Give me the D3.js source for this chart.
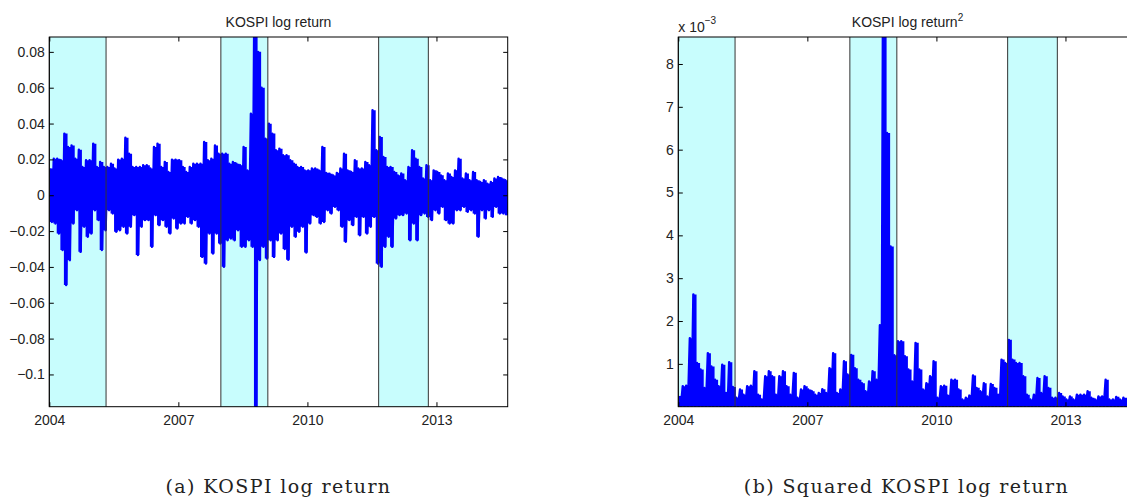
<!DOCTYPE html>
<html>
<head>
<meta charset="utf-8">
<script src="https://cdn.jsdelivr.net/npm/d3@7"></script>
<style>
  body { margin: 0; background: #fff; }
  svg text { font-family: "Liberation Sans", Arial, Helvetica, sans-serif; fill: #222; }
  .caption { font-family: "DejaVu Serif", "Liberation Serif", serif; }
</style>
</head>
<body>
<div id="chart"></div>
<script>
// monthly extremes of the daily KOSPI log return, Jan 2004 .. Aug 2014
var retHigh = [
  0.0149, 0.0204, 0.0204, 0.0195, 0.0344, 0.0269, 0.0278, 0.0204, 0.0254, 0.0158, 0.0195, 0.0195,
  0.0288, 0.0158, 0.0186, 0.0158, 0.0158, 0.0176, 0.0149, 0.0199, 0.0204, 0.0321, 0.0232, 0.0158,
  0.0158, 0.0158, 0.0167, 0.0167, 0.0149, 0.0269, 0.0288, 0.0158, 0.0186, 0.0130, 0.0199, 0.0199,
  0.0195, 0.0158, 0.0130, 0.0158, 0.0176, 0.0176, 0.0176, 0.0297, 0.0195, 0.0204, 0.0278, 0.0232,
  0.0232, 0.0232, 0.0176, 0.0186, 0.0176, 0.0167, 0.0269, 0.0139, 0.0455, 0.1130, 0.0800, 0.0600,
  0.0316, 0.0399, 0.0344, 0.0251, 0.0260, 0.0223, 0.0223, 0.0195, 0.0176, 0.0158, 0.0158, 0.0139,
  0.0139, 0.0149, 0.0149, 0.0139, 0.0269, 0.0125, 0.0120, 0.0110, 0.0125, 0.0149, 0.0232, 0.0139,
  0.0130, 0.0195, 0.0149, 0.0149, 0.0186, 0.0167, 0.0474, 0.0251, 0.0325, 0.0214, 0.0158, 0.0158,
  0.0130, 0.0111, 0.0121, 0.0084, 0.0158, 0.0251, 0.0204, 0.0158, 0.0093, 0.0167, 0.0084, 0.0139,
  0.0130, 0.0111, 0.0084, 0.0121, 0.0102, 0.0139, 0.0204, 0.0093, 0.0121, 0.0084, 0.0130, 0.0084,
  0.0074, 0.0084, 0.0065, 0.0074, 0.0093, 0.0102, 0.0093, 0.0084
];
var retLow = [
  -0.0149, -0.0158, -0.0214, -0.0306, -0.0501, -0.0362, -0.0158, -0.0084, -0.0316, -0.0176, -0.0232, -0.0214,
  -0.0084, -0.0139, -0.0306, -0.0195, -0.0084, -0.0102, -0.0204, -0.0195, -0.0176, -0.0214, -0.0176, -0.0111,
  -0.0334, -0.0176, -0.0139, -0.0139, -0.0288, -0.0111, -0.0167, -0.0139, -0.0176, -0.0214, -0.0130, -0.0186,
  -0.0158, -0.0158, -0.0121, -0.0158, -0.0139, -0.0176, -0.0344, -0.0381, -0.0214, -0.0325, -0.0214, -0.0269,
  -0.0399, -0.0251, -0.0241, -0.0251, -0.0195, -0.0288, -0.0288, -0.0251, -0.0288, -0.1250, -0.0362, -0.0288,
  -0.0353, -0.0251, -0.0344, -0.0251, -0.0214, -0.0300, -0.0360, -0.0176, -0.0232, -0.0204, -0.0176, -0.0320,
  -0.0158, -0.0111, -0.0121, -0.0158, -0.0149, -0.0084, -0.0102, -0.0065, -0.0084, -0.0176, -0.0260, -0.0139,
  -0.0167, -0.0121, -0.0223, -0.0121, -0.0214, -0.0176, -0.0121, -0.0381, -0.0399, -0.0288, -0.0232, -0.0288,
  -0.0130, -0.0111, -0.0111, -0.0102, -0.0251, -0.0158, -0.0251, -0.0111, -0.0102, -0.0121, -0.0139, -0.0084,
  -0.0102, -0.0065, -0.0139, -0.0158, -0.0158, -0.0084, -0.0084, -0.0065, -0.0093, -0.0084, -0.0102, -0.0232,
  -0.0084, -0.0130, -0.0084, -0.0121, -0.0065, -0.0102, -0.0102, -0.0111
];
// monthly peak of the squared log return, in units of 1e-3
var sqPeak = [
  0.25, 0.48, 0.49, 1.60, 2.62, 1.02, 0.87, 0.44, 1.25, 0.94, 0.63, 0.48,
  0.98, 0.32, 1.04, 0.46, 0.21, 0.40, 0.28, 0.48, 0.49, 0.83, 0.28, 0.17,
  0.71, 0.83, 0.71, 0.28, 0.71, 0.83, 0.48, 0.28, 0.79, 0.21, 0.40, 0.48,
  0.40, 0.36, 0.28, 0.32, 0.41, 0.32, 0.90, 1.25, 0.32, 0.40, 1.06, 0.75,
  1.21, 0.90, 0.63, 0.55, 0.36, 0.59, 0.83, 0.63, 1.90, 12.8, 6.39, 3.74,
  1.20, 1.53, 1.53, 1.18, 0.87, 0.59, 1.49, 0.87, 0.40, 0.55, 0.71, 1.06,
  0.21, 0.48, 0.49, 0.26, 0.63, 0.63, 0.40, 0.17, 0.21, 0.26, 0.73, 0.44,
  0.36, 0.55, 0.24, 0.53, 0.44, 0.28, 1.10, 1.02, 1.56, 1.10, 1.02, 1.02,
  0.71, 0.28, 0.17, 0.28, 0.67, 0.32, 0.71, 0.44, 0.21, 0.21, 0.32, 0.24,
  0.17, 0.24, 0.17, 0.28, 0.28, 0.28, 0.36, 0.21, 0.17, 0.24, 0.24, 0.63,
  0.17, 0.17, 0.23, 0.17, 0.21, 0.18, 0.20, 0.20
];

// shaded (cyan) periods
var shadeStart = ["2004-01-01", "2007-12-28", "2011-08-29"];
var shadeEnd   = ["2005-04-27", "2009-01-30", "2012-10-24"];

var tickYears = [2004, 2007, 2010, 2013];
var retTicks = [-0.1, -0.08, -0.06, -0.04, -0.02, 0, 0.02, 0.04, 0.06, 0.08];
var retTickLabels = ["\u22120.1", "\u22120.08", "\u22120.06", "\u22120.04", "\u22120.02", "0", "0.02", "0.04", "0.06", "0.08"];
var sqTicks = [1, 2, 3, 4, 5, 6, 7, 8];

// layout
var width = 458.4, height = 369.7, marginTop = 37;
var leftA = 49.3, leftB = 678.3;

var svg = d3.select("#chart").append("svg")
    .attr("width", 1127)
    .attr("height", 501);

var months = d3.timeMonth.range(new Date(2004, 0, 1), new Date(2014, 8, 1));
var parse = d3.timeParse("%Y-%m-%d");

var x = d3.scaleTime()
    .domain([new Date(2004, 0, 1), new Date(2014, 7, 29)])
    .range([0, width]);

var yRet = d3.scaleLinear().domain([-0.118, 0.0883]).range([height, 0]);
var ySq = d3.scaleLinear().domain([0, 8.63]).range([height, 0]);

// zig-zag through each month: peak early in the month, trough later
var retPoints = [], sqPoints = [], retMonths = [], sqMonths = [];
months.forEach(function(m, i) {
  retPoints.push({t: d3.timeDay.offset(m, 7), v: retHigh[i]});
  retPoints.push({t: d3.timeDay.offset(m, 22), v: retLow[i]});
  sqPoints.push({t: d3.timeDay.offset(m, 7), v: sqPeak[i]});
  sqPoints.push({t: d3.timeDay.offset(m, 22), v: 0});
  retMonths.push({t: d3.timeDay.offset(m, 3), hi: retHigh[i], lo: retLow[i]});
  sqMonths.push({t: d3.timeDay.offset(m, 3), hi: sqPeak[i], lo: 0});
});
retMonths.push({t: new Date(2014, 8, 1), hi: retHigh[127], lo: retLow[127]});
sqMonths.push({t: new Date(2014, 8, 1), hi: sqPeak[127], lo: 0});

function drawPanel(left, y, points, bars, yTicks, yLabels, id) {
  var g = svg.append("g").attr("transform", "translate(" + left + "," + marginTop + ")");

  g.append("clipPath").attr("id", id)
    .append("rect").attr("width", width).attr("height", height);

  // shaded periods
  g.selectAll(".band")
    .data(shadeStart)
    .enter().append("rect")
      .attr("x", function(d) { return x(parse(d)); })
      .attr("y", 0)
      .attr("width", function(d, i) { return x(parse(shadeEnd[i])) - x(parse(d)); })
      .attr("height", height)
      .style("fill", "#c8fdfd");

  // monthly envelope as a stepped band
  var area = d3.area()
    .curve(d3.curveStepAfter)
    .x(function(d) { return x(d.t); })
    .y0(function(d) { return y(d.lo); })
    .y1(function(d) { return y(d.hi); });

  g.append("path")
    .datum(bars)
    .attr("clip-path", "url(#" + id + ")")
    .attr("d", area)
    .style("fill", "#0000ff");

  var line = d3.line()
    .x(function(d) { return x(d.t); })
    .y(function(d) { return y(d.v); });

  g.append("path")
    .datum(points)
    .attr("clip-path", "url(#" + id + ")")
    .attr("d", line)
    .style("fill", "none")
    .style("stroke", "#0000ff")
    .style("stroke-width", 2.4)
    .style("stroke-linejoin", "round");

  // band edges
  var edges = shadeStart.concat(shadeEnd);
  g.selectAll(".edge")
    .data(edges)
    .enter().append("line")
      .attr("x1", function(d) { return x(parse(d)); })
      .attr("x2", function(d) { return x(parse(d)); })
      .attr("y1", 0)
      .attr("y2", height)
      .style("stroke", "#333")
      .style("stroke-width", 1);

  var tickDates = tickYears.map(function(yr) { return new Date(yr, 0, 1); });

  var axB = g.append("g").attr("transform", "translate(0," + height + ")")
    .call(d3.axisBottom(x).tickValues(tickDates).tickFormat(d3.timeFormat("%Y"))
      .tickSize(-4.5).tickPadding(8));
  var axT = g.append("g")
    .call(d3.axisTop(x).tickValues(tickDates).tickFormat("").tickSize(-4.5));
  var axL = g.append("g")
    .call(d3.axisLeft(y).tickValues(yTicks)
      .tickFormat(function(d, i) { return yLabels[i]; })
      .tickSize(-4.5).tickPadding(4.5));
  var axR = g.append("g").attr("transform", "translate(" + width + ",0)")
    .call(d3.axisRight(y).tickValues(yTicks).tickFormat("").tickSize(-4.5));

  [axB, axT, axL, axR].forEach(function(a) {
    a.select(".domain").remove();
    a.selectAll("line").style("stroke", "#000");
    a.selectAll("text").style("font-size", "14px")
      .style("font-family", "'Liberation Sans', Arial, sans-serif").style("fill", "#222");
  });

  g.append("rect")
    .attr("width", width).attr("height", height)
    .style("fill", "none").style("stroke", "#000").style("stroke-width", 1);

  return g;
}

var gA = drawPanel(leftA, yRet, retPoints, retMonths, retTicks, retTickLabels, "clipA");
var gB = drawPanel(leftB, ySq, sqPoints, sqMonths, sqTicks, sqTicks, "clipB");

// titles
gA.append("text")
  .attr("x", width / 2).attr("y", -10.5)
  .attr("text-anchor", "middle")
  .style("font-size", "14px")
  .text("KOSPI log return");

var tB = gB.append("text")
  .attr("x", width / 2).attr("y", -10.5)
  .attr("text-anchor", "middle")
  .style("font-size", "14px");
tB.append("tspan").text("KOSPI log return");
tB.append("tspan").attr("dy", -6).style("font-size", "10px").text("2");

var sc = gB.append("text")
  .attr("x", 0).attr("y", -5.5)
  .style("font-size", "14px");
sc.append("tspan").text("x 10");
sc.append("tspan").attr("dy", -8).style("font-size", "10px").text("\u22123");

// sub-captions
svg.append("text").attr("class", "caption")
  .attr("x", leftA + width / 2).attr("y", 493)
  .attr("text-anchor", "middle")
  .style("font-size", "19px").style("letter-spacing", "1.4px")
  .text("(a) KOSPI log return");

svg.append("text").attr("class", "caption")
  .attr("x", leftB + width / 2 - 1).attr("y", 493)
  .attr("text-anchor", "middle")
  .style("font-size", "19px").style("letter-spacing", "1.4px")
  .text("(b) Squared KOSPI log return");
</script>
</body>
</html>
